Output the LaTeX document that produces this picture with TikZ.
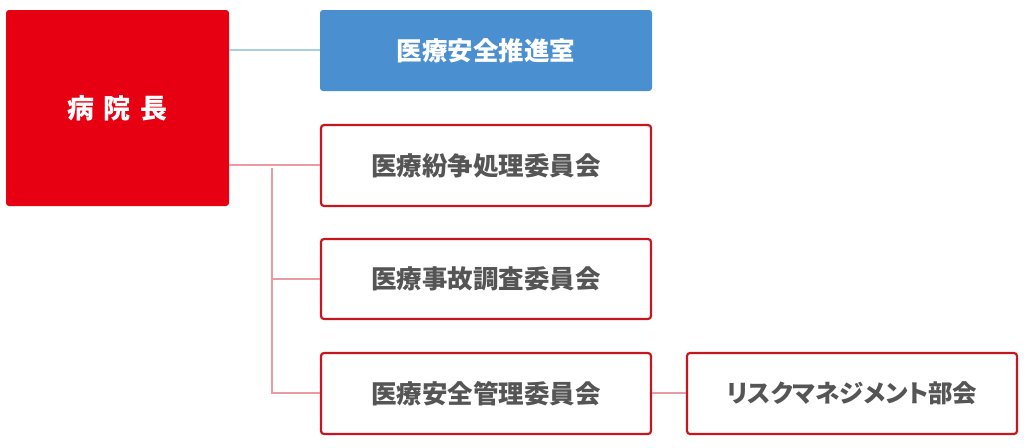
\documentclass[tikz,border=0pt]{standalone}
\usepackage{fontspec}
\newfontfamily\cjk{Noto Sans CJK JP}
\newfontfamily\cjkp{Noto Sans CJK JP}[RawFeature=+palt]
\definecolor{hred}{HTML}{E60012}
\definecolor{hblue}{HTML}{4A8FD0}
\definecolor{bord}{HTML}{C8161E}
\definecolor{txt}{HTML}{555555}
\definecolor{lblue}{HTML}{A9CDE2}
\definecolor{lpink}{HTML}{E99AA2}
\begin{document}
\begin{tikzpicture}[x=1pt,y=-1pt,
  box/.style={rounded corners=3pt,draw=bord,line width=2.2pt,fill=white},
  lab/.style={font=\cjk\bfseries\fontsize{25.5}{25.5}\selectfont,text=txt},
  conn/.style={line width=2.4pt}]
\useasboundingbox (0,0) rectangle (1024,447);
% boxes
\fill[hred,rounded corners=3pt] (6,10) rectangle (229,206);
\node[font=\cjk\bfseries\fontsize{27}{27}\selectfont,text=white] (head) at (117.5,108) {病\hspace{10pt}院\hspace{10pt}長};
\coordinate (headE1) at (229,50);
\coordinate (headE2) at (229,165);
\fill[hblue,rounded corners=3pt] (320,10) rectangle (652,91);
\node[font=\cjk\bfseries\fontsize{25.5}{25.5}\selectfont,text=white] (sui) at (486,50.5) {医療安全推進室};
\draw[box] (321,125) rectangle (651,206);
\node[lab] (fun) at (486,165.5) {医療紛争処理委員会};
\draw[box] (321,239) rectangle (651,319);
\node[lab] (jiko) at (486,279) {医療事故調査委員会};
\draw[box] (321,353) rectangle (651,434);
\node[lab] (kan) at (486,393.5) {医療安全管理委員会};
\draw[box] (687,353) rectangle (1017,434);
\node[lab,font=\cjkp\bfseries\fontsize{24.5}{24.5}\selectfont] (risk) at (852,393.5) {リスクマネジメント部会};
\coordinate (suiW) at (320,50);
\coordinate (funW) at (320,165);
\coordinate (jikoW) at (320,279);
\coordinate (kanW) at (320,393);
\coordinate (kanE) at (652,393);
\coordinate (riskW) at (686,393);
\coordinate (vtop) at (272,168);
\coordinate (vmid) at (272,279);
% connectors
\draw[conn,lblue] (headE1) -- (suiW);
\draw[conn,lpink] (headE2) -- (funW);
\draw[conn,lpink] (vtop) |- (kanW);
\draw[conn,lpink] (vmid) -- (jikoW);
\draw[conn,lpink] (kanE) -- (riskW);
\end{tikzpicture}
\end{document}
